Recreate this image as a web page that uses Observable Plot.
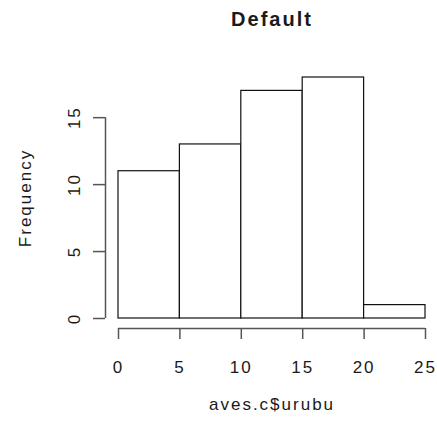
<!DOCTYPE html>
<html>
<head>
<meta charset="utf-8">
<script src="https://cdn.jsdelivr.net/npm/d3@7"></script>
<script src="https://cdn.jsdelivr.net/npm/@observablehq/plot@0.6"></script>
<style>
  html, body { margin: 0; padding: 0; background: #fff; }
  svg { display: block; }
  svg text { letter-spacing: 2px; }
</style>
</head>
<body>
<div id="chart"></div>
<script>
const binStart = [0, 5, 10, 15, 20];
const binEnd = [5, 10, 15, 20, 25];
const counts = [11, 13, 17, 18, 1];
const xTicks = [0, 5, 10, 15, 20, 25];
const yTicks = [0, 5, 10, 15];
const title = "Default";
const xLabel = "aves.c$urubu";
const yLabel = "Frequency";

const bins = binStart.map((s, i) => ({x1: s, x2: binEnd[i], count: counts[i]}));

const font = "Liberation Sans, Arial, Helvetica, sans-serif";
const axisColor = "#555";
const textColor = "#1a1a1a";

const chart = Plot.plot({
  width: 437,
  height: 429,
  marginLeft: 118,
  marginRight: 12,
  marginTop: 77,
  marginBottom: 111,
  style: {fontFamily: font, background: "#fff", color: textColor, letterSpacing: "2px"},
  x: {domain: [0, 25]},
  y: {domain: [0, 18]},
  marks: [
    Plot.rectY(bins, {x1: "x1", x2: "x2", y1: 0, y2: "count", fill: "white", stroke: "#111", strokeWidth: 1.2}),
    // y axis
    Plot.ruleX([0], {y1: yTicks[0], y2: yTicks[yTicks.length - 1], dx: -13, stroke: axisColor, strokeWidth: 1.5}),
    Plot.axisY({ticks: yTicks, tickSize: 12, dx: -13, tickFormat: () => "", label: null, stroke: axisColor, strokeWidth: 1.5}),
    Plot.text(yTicks, {y: d => d, frameAnchor: "left", dx: -44, rotate: -90, text: d => String(d), textAnchor: "middle", lineAnchor: "middle", fontSize: 17, fill: textColor}),
    // x axis
    Plot.ruleY([0], {x1: xTicks[0], x2: xTicks[xTicks.length - 1], dy: 10, stroke: axisColor, strokeWidth: 1.5}),
    Plot.axisX({ticks: xTicks, tickSize: 11, dy: 10, tickFormat: () => "", label: null, stroke: axisColor, strokeWidth: 1.5}),
    Plot.text(xTicks, {x: d => d, frameAnchor: "bottom", dy: 49, text: d => String(d), textAnchor: "middle", lineAnchor: "middle", fontSize: 17, fill: textColor}),
    // labels
    Plot.text([xLabel], {frameAnchor: "bottom", dy: 86, text: d => d, textAnchor: "middle", lineAnchor: "middle", fontSize: 17, fill: textColor}),
    Plot.text([yLabel], {frameAnchor: "left", dx: -93, rotate: -90, text: d => d, textAnchor: "middle", lineAnchor: "middle", fontSize: 17, fill: textColor}),
    Plot.text([title], {frameAnchor: "top", dy: -58, text: d => d, textAnchor: "middle", lineAnchor: "middle", fontSize: 20, fontWeight: "bold", fill: textColor})
  ]
});
document.getElementById("chart").appendChild(chart);
</script>
</body>
</html>
